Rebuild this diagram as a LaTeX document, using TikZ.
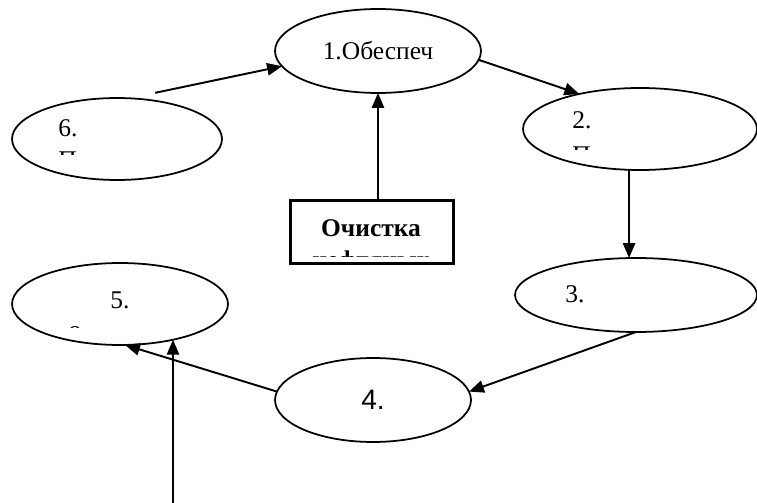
\documentclass[tikz,border=0pt]{standalone}
\usepackage{fontspec}
\setmainfont{Liberation Serif}
\newfontfamily\serifface{Liberation Serif}
\newfontfamily\sansnum{Liberation Sans}
\usetikzlibrary{shapes.geometric, arrows.meta, calc}

\begin{document}
\begin{tikzpicture}[
  x=0.02cm, y=-0.02cm,
  oval/.style={ellipse, draw, line width=1pt, inner sep=0pt, outer sep=0pt,
               font=\serifface\fontsize{14.5}{17}\selectfont},
  txt/.style={inner sep=0pt, font=\serifface\fontsize{14.5}{17}\selectfont},
  arrow/.style={-{Triangle[length=8.5pt, width=7pt]}, line width=1.1pt}
]
\useasboundingbox (0,0) rectangle (757,503);

% Ovals
\node[oval, minimum width=4.12cm, minimum height=1.68cm] at (378,51)  (e1) {1.Обеспеч};
\node[oval, minimum width=4.68cm, minimum height=1.64cm] at (640,129) (e2) {};
\node[oval, minimum width=4.84cm, minimum height=1.48cm] at (636,295) (e3) {};
\node[oval, minimum width=3.92cm, minimum height=1.68cm, font=\sansnum\fontsize{16}{19}\selectfont]
  at (373,400) (e4) {4.};
\node[oval, minimum width=4.32cm, minimum height=1.64cm] at (120,304) (e5) {};
\node[oval, minimum width=4.20cm, minimum height=1.64cm] at (117,139) (e6) {};

% Numbers
\node[txt, anchor=base west] at (572,129) (t2) {2.};
\node[txt, anchor=base west] at (565,302) (t3) {3.};
\node[txt, anchor=base west] at (110,308) (t5) {5.};
\node[txt, anchor=base west] at (58,137)  (t6) {6.};

% Box
\node[draw, line width=1.3pt, inner sep=0pt, minimum width=3.26cm, minimum height=1.26cm]
  at (372,232) (box) {};
\node[txt, anchor=base, font=\serifface\fontsize{14.5}{17}\selectfont\bfseries] at (371,236) (boxtxt) {Очистка};

% Cut-off second lines
\begin{scope}
  \clip (0,0) rectangle (300,155);
  \node[txt, anchor=base west] at (58,169) (t6b) {П};
\end{scope}
\begin{scope}
  \clip (500,0) rectangle (757,150);
  \node[txt, anchor=base west] at (572,164) (t2b) {П};
\end{scope}
\begin{scope}
  \clip (290,201) rectangle (454,256);
  \node[txt, anchor=base, font=\serifface\fontsize{14.5}{17}\selectfont\bfseries] at (371,268) (boxtxtb) {нефтяных};
\end{scope}
\begin{scope}
  \clip (0,250) rectangle (240,327);
  \node[txt, anchor=base] at (75,338) (t5b) {о};
\end{scope}

% Arrows
\draw[arrow] ($(e6.45)+(0,-8)$) -- (e1.189);
\draw[arrow] (e1.-5) -- (e2.150);
\draw[arrow] (box.north -| e1.south) -- (e1.south);
\draw[arrow] (e2.255) -- (e2.255 |- e3.north);
\draw[arrow] (e3.south) -- (e4.5);
\draw[arrow] (e4.175) -- (e5.277);
\coordinate (src) at (173,503);
\draw[arrow] (src) -- (src |- e5.326);
\end{tikzpicture}
\end{document}
